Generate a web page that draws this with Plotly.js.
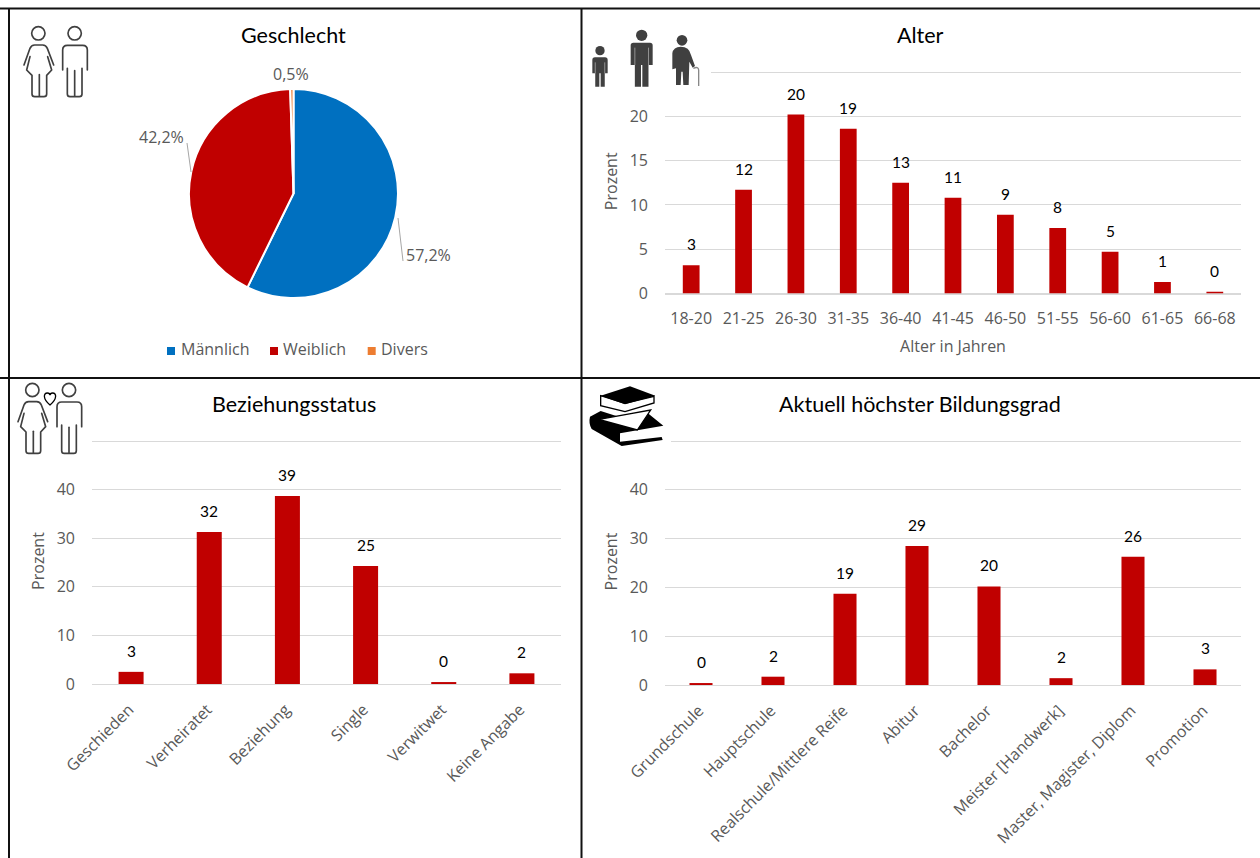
<!DOCTYPE html>
<html>
<head>
<meta charset="utf-8">
<script src="https://cdn.plot.ly/plotly-3.0.1.min.js"></script>
<style>html,body{margin:0;padding:0;background:#fff}#c{width:1260px;height:858px}</style>
</head>
<body>
<div id="c"></div>
<script>
// ---------- data ----------
const genderCategories = ['Männlich', 'Weiblich', 'Divers'];
const genderValues = [57.2, 42.2, 0.5];
const genderLabels = ['57,2%', '42,2%', '0,5%'];

const ageCategories = ['18-20','21-25','26-30','31-35','36-40','41-45','46-50','51-55','56-60','61-65','66-68'];
const ageValues = [3.2, 11.7, 20.2, 18.6, 12.5, 10.8, 8.9, 7.4, 4.7, 1.3, 0.2];
const ageLabels = ['3','12','20','19','13','11','9','8','5','1','0'];

const relCategories = ['Geschieden','Verheiratet','Beziehung','Single','Verwitwet','Keine Angabe'];
const relValues = [2.5, 31.3, 38.7, 24.3, 0.4, 2.2];
const relLabels = ['3','32','39','25','0','2'];

const eduCategories = ['Grundschule','Hauptschule','Realschule/Mittlere Reife','Abitur','Bachelor','Meister [Handwerk]','Master, Magister, Diplom','Promotion'];
const eduValues = [0.4, 1.7, 18.7, 28.5, 20.2, 1.4, 26.3, 3.2];
const eduLabels = ['0','2','19','29','20','2','26','3'];

// ---------- helpers ----------
const W = 1260, H = 858;
const px = x => x / W, py = y => 1 - y / H;
const GRAY = '#595959', GRID = '#d9d9d9', RED = '#C00000', BLUE = '#0070C0', ORANGE = '#ED7D31';
const SANS = '"Open Sans", sans-serif', TITLE = 'Lato, "Open Sans", sans-serif';

function axes(id, left, right, y0, yTop, top, dtick, angle, xTitle) {
  const s = id === 1 ? '' : id;
  const o = {};
  // Plotly drops a gridline within 1px of the range end, so leave 3px of headroom above the top line.
  const pad = 3;
  o['xaxis' + s] = {
    domain: [px(left), px(right)], anchor: 'y' + s, type: 'category', tickangle: angle,
    showgrid: false, showline: true, linecolor: GRID, linewidth: 1, ticks: '',
    ticklabelstandoff: angle === 0 ? 10 : 9, ticklabelshift: angle === 0 ? 0 : -2,
    tickfont: {family: SANS, size: 16, color: GRAY}, automargin: false,
    title: xTitle ? {text: xTitle, font: {family: SANS, size: 16, color: GRAY}, standoff: 13} : undefined
  };
  o['yaxis' + s] = {
    domain: [py(y0), py(yTop - pad)], anchor: 'x' + s, range: [0, top * (1 + pad / (y0 - yTop))], dtick: dtick, tick0: 0,
    showgrid: true, gridcolor: GRID, gridwidth: 1, zeroline: true, zerolinecolor: GRID, showline: false,
    ticks: '', tickfont: {family: SANS, size: 16, color: GRAY}, automargin: false,
    ticklabelstandoff: 16,
    title: {text: 'Prozent', font: {family: SANS, size: 16, color: GRAY}, standoff: 8}
  };
  return o;
}
function bar(id, x, y) {
  const s = id === 1 ? '' : id;
  return {type: 'bar', x: x, y: y, xaxis: 'x' + s, yaxis: 'y' + s, marker: {color: RED}, showlegend: false, hoverinfo: 'x+y'};
}
function barAnn(id, x, y, labels) {
  const s = id === 1 ? '' : id;
  return x.map((c, i) => ({
    xref: 'x' + s, yref: 'y' + s, x: c, y: y[i], text: labels[i], showarrow: false,
    yanchor: 'bottom', yshift: 10, font: {family: TITLE, size: 15.5, color: '#000'}
  }));
}
function title(text, x, y) {
  return {xref: 'paper', yref: 'paper', x: px(x), y: py(y), text: text, showarrow: false,
    xanchor: 'center', yanchor: 'middle', font: {family: TITLE, size: 21.5, color: '#000'}};
}
function note(text, x, y, anchor, size) {
  return {xref: 'paper', yref: 'paper', x: px(x), y: py(y), text: text, showarrow: false,
    xanchor: anchor || 'center', yanchor: 'middle', font: {family: SANS, size: size || 16, color: GRAY}};
}
function pline(x0, y0, x1, y1, color, width) {
  return {type: 'line', xref: 'paper', yref: 'paper', x0: px(x0), y0: py(y0), x1: px(x1), y1: py(y1),
    line: {color: color, width: width}};
}
function swatch(x, color) {
  return {type: 'rect', xref: 'paper', yref: 'paper', x0: px(x), x1: px(x + 8), y0: py(347), y1: py(355),
    fillcolor: color, line: {width: 0}};
}
function img(x, y, w, h, vb, inner) {
  const svg = `<svg xmlns="http://www.w3.org/2000/svg" width="${w}" height="${h}" viewBox="${vb}">${inner}</svg>`;
  return {source: 'data:image/svg+xml;charset=utf-8,' + encodeURIComponent(svg), xref: 'paper', yref: 'paper',
    x: px(x), y: py(y), sizex: w / W, sizey: h / H, xanchor: 'left', yanchor: 'top', sizing: 'stretch', layer: 'above'};
}

// ---------- icons (zoom-crop coordinates: 3 units per pixel) ----------
const OUT = 'fill="none" stroke="#404040" stroke-width="5" stroke-linecap="round" stroke-linejoin="round"';
function woman(dx, dy) {
  return `<g transform="translate(${dx},${dy})" ${OUT}>
    <circle cx="115" cy="100" r="20"/>
    <path d="M72 195 L90 145 Q94 135 104 135 L128 135 Q138 135 142 145 L161 195"/>
    <path d="M90 170 L80 210 L96 226 L96 282 Q96 290 104 290 L132 290 Q140 290 140 282 L140 226 L155 210 L143 170"/>
    <path d="M118 224 L118 288"/>
  </g>`;
}
function man(dx, dy) {
  return `<g transform="translate(${dx},${dy})" ${OUT}>
    <circle cx="224" cy="100" r="20"/>
    <path d="M188 210 L188 150 Q188 136 202 136 L248 136 Q262 136 262 150 L262 210"/>
    <path d="M202 205 L202 282 Q202 290 210 290 L238 290 Q246 290 246 282 L246 205"/>
    <path d="M224 212 L224 288"/>
  </g>`;
}
const FILL = '#404040';
function figure(cx, head, r, top, bw, armB, legB) {
  return `<circle cx="${cx}" cy="${head}" r="${r}" fill="${FILL}"/>
    <path fill="${FILL}" d="M${cx - bw} ${top + 8} Q${cx - bw} ${top} ${cx - bw + 8} ${top} L${cx + bw - 8} ${top} Q${cx + bw} ${top} ${cx + bw} ${top + 8} L${cx + bw} ${armB} L${cx + bw * 0.62} ${armB} L${cx + bw * 0.62} ${legB} L${cx + 2} ${legB} L${cx + 2} ${armB} L${cx - 2} ${armB} L${cx - 2} ${legB} L${cx - bw * 0.62} ${legB} L${cx - bw * 0.62} ${armB} L${cx - bw} ${armB} Z"/>
    <path stroke="#bbb" stroke-width="2" d="M${cx - bw * 0.62} ${top + 15} L${cx - bw * 0.62} ${armB} M${cx + bw * 0.62} ${top + 15} L${cx + bw * 0.62} ${armB}"/>`;
}
const iconGender = woman(0, 0) + man(0, 0);
const iconCouple = '<rect x="36" y="15" width="240" height="240" fill="#fff"/>' + woman(-18, -55) + man(-17, -55) +
  `<path d="M150 90 C128 72 130 54 142 54 C147 54 150 58 150 61 C150 58 153 54 158 54 C170 54 172 72 150 90 Z" fill="#fff" stroke="#000" stroke-width="4"/>`;
const iconAge = '<rect width="393" height="261" fill="#fff"/>' +
  figure(60, 152, 14, 172, 23, 220, 260) + figure(185, 106, 17, 128, 33, 195, 260) +
  `<circle cx="306" cy="121" r="16" fill="${FILL}"/>
   <path fill="${FILL}" d="M277 160 Q280 140 302 140 Q328 140 333 165 L345 198 L338 203 L328 185 L326 255 L310 255 L308 215 L304 215 L302 255 L288 255 L288 205 L277 208 Z"/>
   <path fill="none" stroke="#888" stroke-width="4" d="M340 205 Q355 198 356 210 L356 258"/>`;
const iconBooks = '<rect x="3" width="270" height="225" fill="#fff"/>' +
  `<path fill="#000" d="M30 125 L62 108 L130 130 L200 112 L250 152 L120 175 L120 200 L245 186 L248 195 L125 213 L35 162 Q25 145 30 125 Z"/>
   <path fill="#fff" stroke="#000" stroke-width="4" d="M62 135 L172 165 L212 105 L140 118 L62 132 Z"/>
   <path fill="#fff" stroke="#000" stroke-width="4" d="M62 62 L62 92 L135 110 L222 84 L222 64 L135 85 Z"/>
   <path fill="#000" d="M62 62 L150 34 L226 62 L135 88 Z"/>`;

// ---------- traces ----------
const pie = {
  type: 'pie', labels: genderCategories, values: genderValues, sort: false, direction: 'clockwise', rotation: 0,
  domain: {x: [px(189), px(398)], y: [py(298), py(89)]},
  marker: {colors: [BLUE, RED, ORANGE], line: {color: '#fff', width: 2}},
  textinfo: 'none', showlegend: false, hoverinfo: 'label+value'
};
const traces = [
  pie,
  bar(1, ageCategories, ageValues),
  bar(2, relCategories, relValues),
  bar(3, eduCategories, eduValues)
];

// ---------- layout ----------
const legendX = [167, 270, 367.7];
const legendTextX = [178.5, 281, 379];
const layout = Object.assign({
  width: W, height: H, margin: {l: 0, r: 0, t: 0, b: 0}, paper_bgcolor: '#fff', plot_bgcolor: 'rgba(0,0,0,0)',
  bargap: 0.68, showlegend: false,
  shapes: [
    pline(0, 8.5, W, 8.5, '#111', 2),
    pline(0, 378, W, 378, '#111', 2),
    pline(9, 8, 9, H, '#111', 2),
    pline(581.5, 8, 581.5, H, '#111', 2),
    pline(398, 218, 403, 261, '#a6a6a6', 1),
    pline(187, 143, 191, 172, '#a6a6a6', 1)
  ].concat(genderCategories.map((c, i) => swatch(legendX[i], [BLUE, RED, ORANGE][i]))),
  annotations: [
    title('Geschlecht', 293.5, 35), title('Alter', 920, 35),
    title('Beziehungsstatus', 293.5, 404), title('Aktuell höchster Bildungsgrad', 920, 404),
    note(genderLabels[0], 428, 255), note(genderLabels[1], 162, 137), note(genderLabels[2], 291, 74)
  ].concat(genderCategories.map((c, i) => note(c, legendTextX[i], 349, 'left', 16)))
   .concat(barAnn(1, ageCategories, ageValues, ageLabels))
   .concat(barAnn(2, relCategories, relValues, relLabels))
   .concat(barAnn(3, eduCategories, eduValues, eduLabels)),
  images: [
    img(0, 0, 300, 110, '0 0 900 330', iconGender),
    img(580, 10, 131, 80, '0 30 393 240', iconAge),
    img(12, 380, 80, 80, '36 15 240 240', iconCouple),
    img(581, 380, 90, 70, '3 15 270 210', iconBooks)
  ]
},
  axes(1, 665, 1241, 293.5, 72, 25, 5, 0, 'Alter in Jahren'),
  axes(2, 92, 561, 684, 441, 50, 10, -45),
  axes(3, 665, 1241, 685, 441, 50, 10, -45)
);

Plotly.newPlot('c', traces, layout, {displayModeBar: false, staticPlot: true});
</script>
</body>
</html>
